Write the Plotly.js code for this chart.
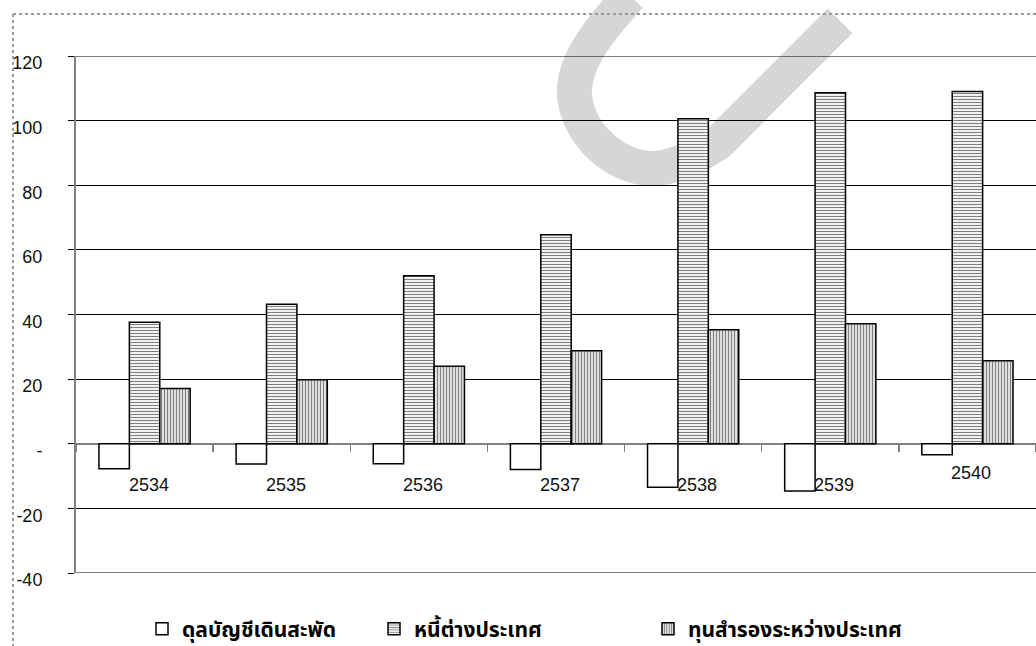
<!DOCTYPE html>
<html>
<head>
<meta charset="utf-8">
<script src="https://cdn.plot.ly/plotly-3.0.1.min.js"></script>
<style>html,body{margin:0;padding:0;background:#fff;}#chart{width:1036px;height:646px;}</style>
</head>
<body>
<div id="chart"></div>
<script>
// ---- data ----
const categories = ['2534', '2535', '2536', '2537', '2538', '2539', '2540'];
const currentAccount = [-7.7, -6.3, -6.2, -8.0, -13.5, -14.6, -3.4];
const foreignDebt = [37.6, 43.2, 52.0, 64.7, 100.6, 108.6, 109.0];
const reserves = [17.1, 19.8, 24.0, 28.8, 35.3, 37.1, 25.7];
const seriesNames = ['ดุลบัญชีเดินสะพัด', 'หนี้ต่างประเทศ', 'ทุนสำรองระหว่างประเทศ'];
const yTickVals = [-40, -20, 0, 20, 40, 60, 80, 100, 120];
const yTickText = ['-40', '-20', '-', '20', '40', '60', '80', '100', '120'];

// ---- geometry helpers (pixel -> paper) ----
const W = 1036, H = 646, ML = 76, MR = 0, MT = 56, MB = 73;
const PW = W - ML - MR, PH = H - MT - MB;
const px = v => ((v - ML) / PW).toFixed(5);
const py = v => ((H - MB - v) / PH).toFixed(5);
const P = (x, y) => px(x) + ',' + py(y);

const thaiFont = 'Noto Sans Thai, Loma, Garuda, Noto Sans, DejaVu Sans, sans-serif';
const numFont = 'Liberation Sans, Arial, sans-serif';

const traces = [
  {type: 'bar', name: seriesNames[0], x: categories, y: currentAccount, legend: 'legend',
   marker: {color: '#ffffff', line: {color: '#000', width: 1.5}}, hoverinfo: 'x+y'},
  {type: 'bar', name: seriesNames[1], x: categories, y: foreignDebt, legend: 'legend2',
   marker: {color: '#ffffff', line: {color: '#000', width: 1.5},
            pattern: {shape: '-', size: 3, solidity: 0.4, fgcolor: '#000', bgcolor: '#ffffff', fillmode: 'overlay'}}, hoverinfo: 'x+y'},
  {type: 'bar', name: seriesNames[2], x: categories, y: reserves, legend: 'legend3',
   marker: {color: '#ffffff', line: {color: '#000', width: 1.5},
            pattern: {shape: '|', size: 3, solidity: 0.5, fgcolor: '#000', bgcolor: '#ffffff', fillmode: 'overlay'}}, hoverinfo: 'x+y'}
];

const labelYShift = [-41, -41, -41, -41, -41, -41, -29];
const annotations = categories.map((c, i) => ({
  xref: 'x', yref: 'y', x: i, y: 0, yshift: labelYShift[i], xshift: 4,
  text: c, showarrow: false, font: {family: numFont, size: 18, color: '#111'}
}));

const wm = 'M ' + P(630, -4) + ' C ' + P(594, 35) + ' ' + P(570, 68) + ' ' + P(575, 100) +
           ' C ' + P(582, 142) + ' ' + P(625, 173) + ' ' + P(660, 168) +
           ' C ' + P(680, 165) + ' ' + P(698, 156) + ' ' + P(718, 143) +
           ' L ' + P(840, 21);

// top & bottom gridlines (Plotly omits grid lines on the plot edges)
const edgeGrid = [yTickVals[0], yTickVals[yTickVals.length - 1]].map(v => ({
  type: 'line', xref: 'paper', yref: 'y', x0: 0, x1: 1, y0: v, y1: v, layer: 'below',
  line: {color: '#000', width: 1}
}));

const shapes = [
  {type: 'path', xref: 'paper', yref: 'paper', path: wm, layer: 'below',
   line: {color: '#d6d6d6', width: 35}},
  ...edgeGrid,
  {type: 'line', xref: 'paper', yref: 'paper', x0: px(13), x1: px(1036), y0: py(14), y1: py(14),
   line: {color: '#9a9a9a', width: 2, dash: 'dot'}},
  {type: 'line', xref: 'paper', yref: 'paper', x0: px(13), x1: px(13), y0: py(14), y1: py(646),
   line: {color: '#9a9a9a', width: 2, dash: 'dot'}}
];

const legendBase = {orientation: 'h', xanchor: 'left', yanchor: 'middle', bgcolor: 'rgba(0,0,0,0)',
  borderwidth: 0, font: {family: thaiFont, size: 21, color: '#000', weight: 'bold'}};

const layout = {
  width: W, height: H,
  margin: {l: ML, r: MR, t: MT, b: MB, pad: 0, autoexpand: false},
  paper_bgcolor: '#fff', plot_bgcolor: 'rgba(0,0,0,0)',
  barmode: 'group', bargap: 0.335, bargroupgap: 0,
  showlegend: true,
  legend: Object.assign({}, legendBase, {x: px(142), y: py(629)}),
  legend2: Object.assign({}, legendBase, {x: px(374), y: py(629)}),
  legend3: Object.assign({}, legendBase, {x: px(648), y: py(629)}),
  xaxis: {type: 'category', range: [-0.5, 6.5], anchor: 'free', position: 0.25,
          showgrid: false, showline: false, zeroline: false,
          ticks: 'outside', tickson: 'boundaries', ticklen: 7, tickcolor: '#808080', tickwidth: 1.5,
          showticklabels: false, fixedrange: true},
  yaxis: {range: [-40, 120], tickvals: yTickVals, ticktext: yTickText,
          showgrid: true, gridcolor: '#000', gridwidth: 1,
          zeroline: true, zerolinecolor: '#808080', zerolinewidth: 2,
          showline: true, linecolor: '#808080', linewidth: 2,
          ticks: 'outside', ticklen: 6, tickcolor: '#000', tickwidth: 1,
          ticklabelstandoff: 22, ticklabelshift: 7,
          tickfont: {family: numFont, size: 18, color: '#111'}, fixedrange: true},
  annotations: annotations,
  shapes: shapes
};

Plotly.newPlot('chart', traces, layout, {displayModeBar: false, staticPlot: true});
</script>
</body>
</html>
